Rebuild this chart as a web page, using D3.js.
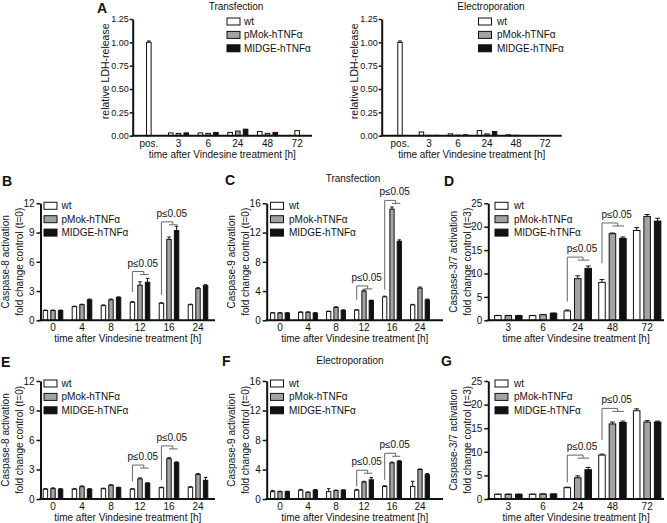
<!DOCTYPE html>
<html><head><meta charset="utf-8">
<script src="https://cdn.jsdelivr.net/npm/d3@7"></script>
<style>
html,body{margin:0;padding:0;background:#fff;}
text{font-family:"Liberation Sans",Arial,sans-serif;fill:#111;}
</style></head>
<body><svg id="chart" width="667" height="523"></svg>
<script>
// ---------- data ----------
const seriesNames = ["wt", "pMok-hTNFα", "MIDGE-hTNFα"];

// Panel A (LDH release)
const ldhGroups = ["pos.", "3", "6", "24", "48", "72"];
const ldhTicks = [0, 0.25, 0.5, 0.75, 1.0, 1.25];
const ldhTransWt    = [1.00, 0.030, 0.030, 0.035, 0.045, 0.055];
const ldhTransPmok  = [null, 0.025, 0.025, 0.050, 0.025, null];
const ldhTransMidge = [null, 0.030, 0.035, 0.070, 0.035, null];
const ldhTransErrWt = [0.015, 0, 0, 0, 0, 0];
const ldhElecWt     = [1.00, 0.040, 0.020, 0.055, 0.010, null];
const ldhElecPmok   = [null, 0.004, 0.006, 0.020, 0.004, null];
const ldhElecMidge  = [null, 0.004, 0.010, 0.045, null, null];
const ldhElecErrWt  = [0.015, 0, 0, 0, 0, 0];

// Caspase-8 / -9 time points
const earlyGroups = ["0", "4", "8", "12", "16", "24"];
// Caspase-3/7 time points
const lateGroups = ["3", "6", "24", "48", "72"];
const ticks8 = [0, 3, 6, 9, 12];
const ticks9 = [0, 4, 8, 12, 16];
const ticks37 = [0, 5, 10, 15, 20, 25];

// B: Caspase-8, transfection
const c8TransWt    = [1.00, 1.40, 1.50, 1.85, 1.75, 1.60];
const c8TransPmok  = [1.00, 1.60, 2.10, 3.60, 8.30, 3.25];
const c8TransMidge = [1.00, 2.10, 2.35, 3.90, 9.20, 3.55];
const c8TransErrWt    = [0.05, 0.05, 0.08, 0.06, 0.05, 0.05];
const c8TransErrPmok  = [0.05, 0.05, 0.08, 0.35, 0.25, 0.10];
const c8TransErrMidge = [0.05, 0.08, 0.05, 0.40, 0.45, 0.10];
// C: Caspase-9, transfection
const c9TransWt    = [1.00, 1.10, 1.20, 1.40, 3.20, 2.10];
const c9TransPmok  = [1.00, 1.10, 1.75, 4.00, 15.2, 4.40];
const c9TransMidge = [1.00, 1.00, 1.35, 2.70, 10.8, 2.80];
const c9TransErrWt    = [0.05, 0.05, 0.05, 0.05, 0.10, 0.08];
const c9TransErrPmok  = [0.05, 0.05, 0.10, 0.15, 0.30, 0.15];
const c9TransErrMidge = [0.03, 0.03, 0.08, 0.05, 0.20, 0.10];
// D: Caspase-3/7, transfection
const c37TransWt    = [1.00, 1.00, 2.00, 8.10, 19.2];
const c37TransPmok  = [1.00, 1.20, 8.90, 18.5, 22.2];
const c37TransMidge = [1.00, 1.50, 11.1, 17.5, 21.2];
const c37TransErrWt    = [0.05, 0.05, 0.20, 0.60, 0.60];
const c37TransErrPmok  = [0.05, 0.05, 0.60, 0.15, 0.40];
const c37TransErrMidge = [0.05, 0.05, 0.50, 0.30, 0.60];
// E: Caspase-8, electroporation
const c8ElecWt    = [1.00, 1.00, 1.05, 1.00, 1.15, 1.20];
const c8ElecPmok  = [1.05, 1.25, 1.40, 2.05, 4.10, 2.50];
const c8ElecMidge = [1.00, 1.00, 1.15, 1.60, 3.70, 1.90];
const c8ElecErrWt    = [0.05, 0.05, 0.05, 0.05, 0.05, 0.05];
const c8ElecErrPmok  = [0.08, 0.08, 0.05, 0.10, 0.10, 0.08];
const c8ElecErrMidge = [0.05, 0.05, 0.05, 0.05, 0.08, 0.30];
// F: Caspase-9, electroporation
const c9ElecWt    = [1.00, 1.20, 1.00, 1.20, 1.70, 1.70];
const c9ElecPmok  = [1.00, 0.90, 1.15, 2.30, 4.90, 4.00];
const c9ElecMidge = [1.00, 1.20, 1.20, 2.60, 5.10, 3.30];
const c9ElecErrWt    = [0.15, 0.10, 0.40, 0.10, 0.10, 0.70];
const c9ElecErrPmok  = [0.05, 0.05, 0.05, 0.10, 0.10, 0.08];
const c9ElecErrMidge = [0.05, 0.08, 0.05, 0.30, 0.10, 0.15];
// G: Caspase-3/7, electroporation
const c37ElecWt    = [1.00, 1.00, 2.40, 9.30, 18.7];
const c37ElecPmok  = [1.00, 1.05, 4.50, 15.9, 16.3];
const c37ElecMidge = [1.00, 1.05, 6.20, 16.2, 16.3];
const c37ElecErrWt    = [0.03, 0.03, 0.10, 0.20, 0.40];
const c37ElecErrPmok  = [0.03, 0.03, 0.40, 0.40, 0.30];
const c37ElecErrMidge = [0.03, 0.03, 0.50, 0.30, 0.20];

// significance brackets: group, bracket level, lower end of the left leg
const sigLabel = "p≤0.05";
const sigB = [["12", 5.0, 2.9], ["16", 10.1, 2.6]];
const sigC = [["12", 4.7, 2.8], ["16", 16.4, 4.2]];
const sigD = [["24", 13.5, 4.0], ["48", 20.8, 12.2]];
const sigE = [["12", 3.45, 1.8], ["16", 5.4, 1.9]];
const sigF = [["12", 3.9, 1.7], ["16", 6.2, 2.6]];
const sigG = [["24", 9.3, 3.5], ["48", 19.2, 12.5]];

// ---------- drawing ----------
const svg = d3.select("#chart");
const fills = ["#ffffff", "#a3a3a3", "#111111"];
const FONT = 10;

function drawPanel(c) {
  const g = svg.append("g");
  const y = d3.scaleLinear().domain([0, c.ticks[c.ticks.length - 1]]).range([c.y0, c.yTop]);
  const x0 = d3.scaleBand().domain(c.groups).range(c.band)
    .paddingInner(c.pad).paddingOuter(c.pad / 2);
  const x1 = d3.scaleBand().domain(seriesNames).range([0, x0.bandwidth()])
    .paddingInner(0.28).paddingOuter(0);
  const vals = [c.wt, c.pm, c.mg];
  const errs = [c.ewt || [], c.epm || [], c.emg || []];

  // bars
  c.groups.forEach((grp, gi) => {
    const present = vals.map(v => v[gi]).filter(v => v != null).length;
    vals.forEach((arr, si) => {
      const v = arr[gi];
      if (v == null) return;
      let xs = x0(grp) + x1(seriesNames[si]);
      if (present === 1) xs = x0(grp) + x0.bandwidth() / 2 - x1.bandwidth() / 2;
      const bw = x1.bandwidth();
      g.append("rect")
        .attr("x", xs + 0.5).attr("y", y(v))
        .attr("width", Math.max(bw - 1, 0.5)).attr("height", Math.max(c.y0 - y(v), 0))
        .attr("fill", fills[si]).attr("stroke", "#111").attr("stroke-width", 1);
      const e = errs[si][gi];
      if (e) {
        const cx = xs + bw / 2;
        g.append("line").attr("x1", cx).attr("x2", cx).attr("y1", y(v)).attr("y2", y(v + e))
          .attr("stroke", "#111").attr("stroke-width", 1);
        g.append("line").attr("x1", cx - bw * 0.32).attr("x2", cx + bw * 0.32)
          .attr("y1", y(v + e)).attr("y2", y(v + e)).attr("stroke", "#111").attr("stroke-width", 1);
      }
    });
  });

  // significance brackets
  (c.sig || []).forEach(([grp, top, low]) => {
    const xw = x0(grp) + x1(seriesNames[0]) + x1.bandwidth() / 2;
    const xp = x0(grp) + x1(seriesNames[1]) + x1.bandwidth() / 2;
    const xm = x0(grp) + x1(seriesNames[2]) + x1.bandwidth() / 2;
    const xmid = (xp + xm) / 2;
    const yt = y(top);
    g.append("path")
      .attr("d", `M${xw},${y(low)}V${yt}H${xmid}V${yt + 3}M${xp},${yt + 3}H${xm + 1}`)
      .attr("fill", "none").attr("stroke", "#666").attr("stroke-width", 1);
    g.append("text").attr("x", xmid - 1).attr("y", yt - 5).attr("text-anchor", "middle")
      .attr("font-size", FONT).text(sigLabel);
  });

  // y axis
  const ya = g.append("g").attr("transform", `translate(${c.axX0},0)`)
    .call(d3.axisLeft(y).tickValues(c.ticks).tickSize(c.tickSize || 4).tickSizeOuter(0)
      .tickPadding(c.tickPad != null ? c.tickPad : 2)
      .tickFormat(c.fmt || d3.format("d")));
  ya.select(".domain").attr("stroke", "#111").attr("stroke-width", 2);
  ya.selectAll(".tick line").attr("stroke", "#111").attr("stroke-width", 1.5);
  ya.selectAll(".tick text").attr("font-size", c.tickFont || FONT).attr("font-family", null).attr("fill", "#111");

  // x axis
  const xa = g.append("g").attr("transform", `translate(0,${c.y0})`)
    .call(d3.axisBottom(x0).tickSize(0).tickPadding(4));
  xa.select(".domain").remove();
  xa.selectAll(".tick text").attr("font-size", FONT).attr("font-family", null).attr("fill", "#111");
  g.append("line").attr("x1", c.axX0 - 1).attr("x2", c.axX1).attr("y1", c.y0).attr("y2", c.y0)
    .attr("stroke", "#111").attr("stroke-width", 2);

  // x title
  g.append("text").attr("x", (c.axX0 + c.axX1) / 2).attr("y", c.y0 + 22)
    .attr("text-anchor", "middle").attr("font-size", FONT).text("time after Vindesine treatment [h]");

  // y titles
  const yc = (c.y0 + c.yTop) / 2 + (c.ytShift || 0);
  c.ytitle.forEach((t, i) => {
    const off = c.ytitle.length === 1 ? -28 : (i === 0 ? -35 : -21);
    g.append("text").attr("transform", `translate(${c.axX0 + off},${yc}) rotate(-90)`)
      .attr("text-anchor", "middle").attr("dominant-baseline", "central")
      .attr("font-size", c.ytFont || FONT).text(t);
  });

  // legend
  seriesNames.forEach((s, si) => {
    const ly = c.yTop + 2.5 + si * 13.4;
    g.append("rect").attr("x", c.leg[0] + 0.5).attr("y", ly - 3.5).attr("width", 13).attr("height", 7)
      .attr("fill", fills[si]).attr("stroke", "#111").attr("stroke-width", 1);
    g.append("text").attr("x", c.leg[1]).attr("y", ly).attr("dominant-baseline", "central")
      .attr("font-size", FONT).text(s);
  });

  // panel letter and title
  if (c.letter) g.append("text").attr("x", c.letter[0]).attr("y", c.letter[1]).attr("font-size", 14)
    .attr("font-weight", "bold").text(c.letter[2]);
  if (c.title) g.append("text").attr("x", c.title[0]).attr("y", c.title[1])
    .attr("text-anchor", "middle").attr("font-size", FONT).text(c.title[2]);
}

const ldhTitle = ["relative LDH-release"];
drawPanel({groups: ldhGroups, wt: ldhTransWt, pm: ldhTransPmok, mg: ldhTransMidge, ewt: ldhTransErrWt,
  ticks: ldhTicks, fmt: d3.format(".2f"), tickFont: 9, tickSize: 3, tickPad: 1, ytFont: 10.5, ytShift: -6,
  y0: 135.7, yTop: 19, axX0: 132.7, axX1: 312, band: [134, 312], pad: 0.29,
  ytitle: ldhTitle, leg: [226.5, 244], letter: [97, 13, "A"], title: [236, 10, "Transfection"]});
drawPanel({groups: ldhGroups, wt: ldhElecWt, pm: ldhElecPmok, mg: ldhElecMidge, ewt: ldhElecErrWt,
  ticks: ldhTicks, fmt: d3.format(".2f"), tickFont: 9, tickSize: 3, tickPad: 1, ytFont: 10.5, ytShift: -6,
  y0: 135.7, yTop: 19, axX0: 381.7, axX1: 561.7, band: [385.5, 559.5], pad: 0.29,
  ytitle: ldhTitle, leg: [478, 497], title: [491, 10, "Electroporation"]});

const t8 = ["Caspase-8 activation", "fold change control (t=0)"];
const t9 = ["Caspase-9 activation", "fold change control (t=0)"];
const t37 = ["Caspase-3/7 activation", "fold change control (t=3)"];

drawPanel({groups: earlyGroups, wt: c8TransWt, pm: c8TransPmok, mg: c8TransMidge,
  ewt: c8TransErrWt, epm: c8TransErrPmok, emg: c8TransErrMidge, sig: sigB,
  ticks: ticks8, y0: 320.3, yTop: 203.3, axX0: 40.5, axX1: 215, band: [38.5, 212.5], pad: 0.29,
  ytitle: t8, leg: [43.5, 61.5], letter: [2, 186, "B"]});
drawPanel({groups: earlyGroups, wt: c9TransWt, pm: c9TransPmok, mg: c9TransMidge,
  ewt: c9TransErrWt, epm: c9TransErrPmok, emg: c9TransErrMidge, sig: sigC,
  ticks: ticks9, y0: 320.3, yTop: 203.3, axX0: 266.7, axX1: 443, band: [266, 434], pad: 0.29,
  ytitle: t9, leg: [270, 289], letter: [225, 185, "C"], title: [353, 182, "Transfection"]});
drawPanel({groups: lateGroups, wt: c37TransWt, pm: c37TransPmok, mg: c37TransMidge,
  ewt: c37TransErrWt, epm: c37TransErrPmok, emg: c37TransErrMidge, sig: sigD,
  ticks: ticks37, y0: 320.3, yTop: 203.3, axX0: 488.3, axX1: 664, band: [491, 664.5], pad: 0.18,
  ytitle: t37, leg: [494.5, 514], letter: [444, 186, "D"]});

drawPanel({groups: earlyGroups, wt: c8ElecWt, pm: c8ElecPmok, mg: c8ElecMidge,
  ewt: c8ElecErrWt, epm: c8ElecErrPmok, emg: c8ElecErrMidge, sig: sigE,
  ticks: ticks8, y0: 499, yTop: 381, axX0: 40.5, axX1: 215, band: [38.5, 212.5], pad: 0.29,
  ytitle: t8, leg: [43.5, 61.5], letter: [1, 367, "E"]});
drawPanel({groups: earlyGroups, wt: c9ElecWt, pm: c9ElecPmok, mg: c9ElecMidge,
  ewt: c9ElecErrWt, epm: c9ElecErrPmok, emg: c9ElecErrMidge, sig: sigF,
  ticks: ticks9, y0: 499, yTop: 381, axX0: 266.7, axX1: 443, band: [266, 434], pad: 0.29,
  ytitle: t9, leg: [270, 289], letter: [222, 366, "F"], title: [350, 364, "Electroporation"]});
drawPanel({groups: lateGroups, wt: c37ElecWt, pm: c37ElecPmok, mg: c37ElecMidge,
  ewt: c37ElecErrWt, epm: c37ElecErrPmok, emg: c37ElecErrMidge, sig: sigG,
  ticks: ticks37, y0: 499, yTop: 381, axX0: 488.3, axX1: 664, band: [491, 664.5], pad: 0.18,
  ytitle: t37, leg: [494.5, 514], letter: [441, 366, "G"]});
</script></body></html>
